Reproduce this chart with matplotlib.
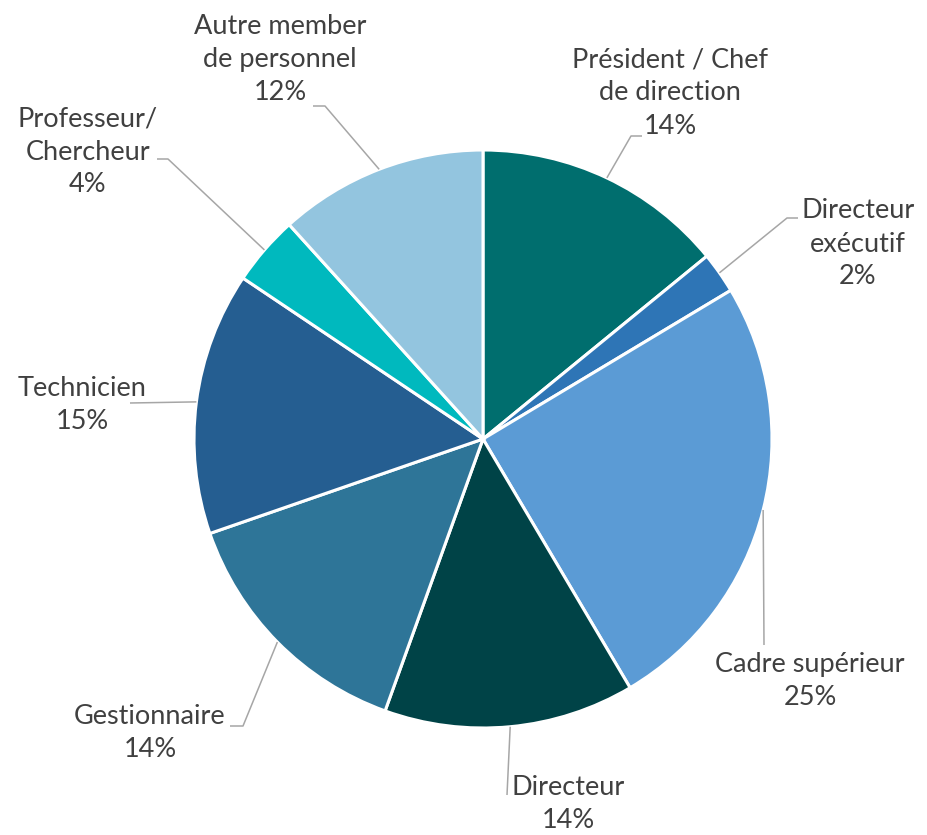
import numpy as np
import matplotlib
matplotlib.use("Agg")
import matplotlib.pyplot as plt

# données
categories = ["Président / Chef\nde direction", "Directeur\nexécutif", "Cadre supérieur",
              "Directeur", "Gestionnaire", "Technicien", "Professeur/\nChercheur",
              "Autre member\nde personnel"]
values = [14.1, 2.3, 25.1, 14.0, 14.2, 14.7, 3.9, 11.7]
colors = ["#006E6E", "#2E75B6", "#5B9BD5", "#004347", "#2E7598", "#255E91", "#00B9BE", "#93C5DF"]

# mise en page en pixels (centre et rayon du camembert)
W, H = 927, 835
cx, cy, r = 483, 439, 289

# centre du bloc de texte, puis coude et fin du trait de rappel (pixels)
label_pos = [(670, 93), (858, 244), (810, 681), (568, 804), (150, 733), (82, 405), (88, 152), (280, 59)]
leader_pts = [[(631, 136), (642, 136)],
              [(787, 218), (798, 218)],
              [(764, 645)],
              [(507, 795)],
              [(243, 726), (230, 726)],
              [(130, 403)],
              [(168, 159), (157, 159)],
              [(325, 106), (313, 106)]]


def px(x, y):
    return (x - cx) / r, (cy - y) / r


fig = plt.figure(figsize=(W / 100, H / 100), dpi=100)
ax = fig.add_axes([0, 0, 1, 1])

wedges, _ = ax.pie(values, colors=colors, startangle=90, counterclock=False,
                   wedgeprops=dict(edgecolor="white", linewidth=2.2))

ax.set_xlim(px(0, 0)[0], px(W, 0)[0])
ax.set_ylim(px(0, H)[1], px(0, 0)[1])
ax.axis("off")

total = sum(values)
for w, cat, v, pos, pts in zip(wedges, categories, values, label_pos, leader_pts):
    ang = np.deg2rad((w.theta1 + w.theta2) / 2)
    xs = [np.cos(ang)] + [px(*p)[0] for p in pts]
    ys = [np.sin(ang)] + [px(*p)[1] for p in pts]
    ax.plot(xs, ys, color="#A6A6A6", lw=1.1, solid_capstyle="butt")
    pct = round(v / total * 100)
    tx, ty = px(*pos)
    ax.text(tx, ty, f"{cat}\n{pct}%", ha="center", va="center", fontsize=19.5,
            family="Lato", color="#404040", linespacing=1.4)

fig.savefig("out.png", dpi=100)
